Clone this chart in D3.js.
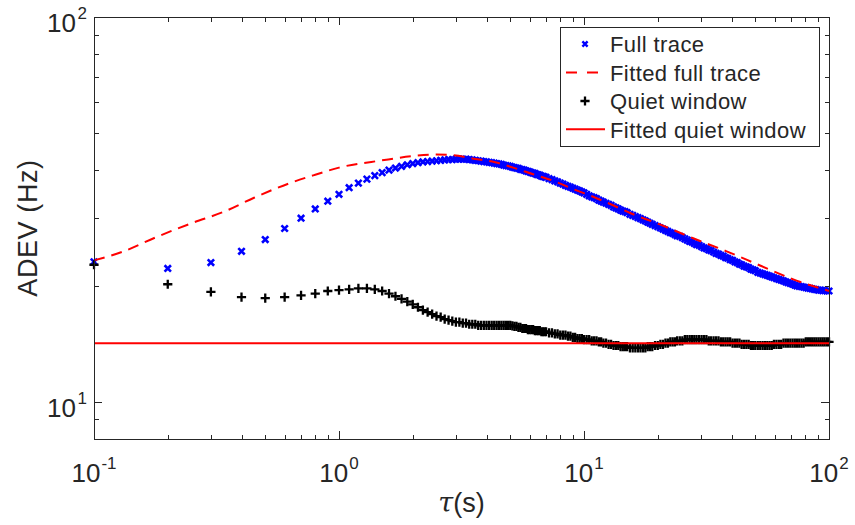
<!DOCTYPE html>
<html><head><meta charset="utf-8">
<script src="https://cdn.jsdelivr.net/npm/d3@7"></script>
<style>
body{margin:0;background:#fff}
svg{display:block}
text{font-family:"Liberation Sans",Arial,Helvetica,sans-serif;fill:#262626}
</style>
</head><body>
<svg id="chart" width="855" height="525"></svg>
<script>
// ---------- data ----------
const tau = [0.1,0.2,0.3,0.4,0.5,0.6,0.7,0.8,0.9,1.0,1.1,1.2,1.3,1.4,1.5,1.6,1.7,1.8,1.9,2.0,2.1,2.2,2.3,2.4,2.5,2.6,2.7,2.8,2.9,3.0,
3.1,3.2,3.3,3.4,3.5,3.6,3.7,3.8,3.9,4.0,4.1,4.2,4.3,4.4,4.5,4.6,4.7,4.8,4.9,5.0,
5.1,5.2,5.3,5.4,5.5,5.6,5.7,5.8,5.9,6.0,6.1,6.2,6.3,6.4,6.5,6.6,6.7,6.8,6.9,7.0,
7.2,7.4,7.6,7.8,8.0,8.2,8.4,8.6,8.8,9.0,9.2,9.4,9.6,9.8,10,
10.25,10.5,10.75,11,11.25,11.5,11.75,12,12.3,12.6,12.9,13.2,13.5,13.8,14.1,14.4,14.7,15,15.4,15.8,16.2,16.6,17,17.4,17.8,18.2,18.6,19,19.5,20,
20.5,21,21.5,22,22.5,23,23.5,24,24.6,25.2,25.8,26.4,27,27.6,28.2,28.8,29.5,30.2,30.9,31.6,32.3,33,33.8,34.6,35.4,36.2,37,37.8,38.6,39.5,
40.4,41.3,42.2,43.1,44,45,46,47,48,49,50,51.2,52.4,53.6,54.8,56,57.2,58.4,59.6,61,62.4,63.8,65.2,66.6,68,69.5,71,72.5,74,75.6,
77.2,78.8,80.4,82,83.7,85.4,87.1,88.8,90.6,92.4,94.2,96,98,100];

const fullTrace = [23.1,22.2,23.0,24.6,26.4,28.2,30.0,31.7,33.2,34.6,36.0,37.0,37.9,38.7,39.4,40.0,40.5,40.9,41.3,41.6,41.8,42.0,42.1,42.2,42.3,42.4,42.5,42.6,42.6,42.7,
42.7,42.7,42.7,42.6,42.5,42.4,42.3,42.2,42.1,42.0,41.9,41.8,41.7,41.6,41.5,41.4,41.2,41.1,41.0,40.9,
40.7,40.6,40.5,40.4,40.2,40.1,40.0,39.8,39.7,39.6,39.4,39.3,39.2,39.0,38.9,38.8,38.6,38.5,38.4,38.3,
38.0,37.8,37.5,37.3,37.0,36.8,36.5,36.3,36.1,35.9,35.7,35.5,35.3,35.1,34.9,
34.6,34.3,34.1,33.9,33.7,33.4,33.2,33.0,32.8,32.6,32.4,32.1,31.9,31.7,31.5,31.3,31.2,31.0,30.7,30.5,30.3,30.1,29.9,29.7,29.5,29.3,29.1,28.9,28.7,28.5,
28.3,28.1,27.9,27.7,27.5,27.4,27.2,27.0,26.9,26.7,26.5,26.3,26.1,26.0,25.8,25.6,25.5,25.3,25.1,25.0,24.8,24.7,24.5,24.3,24.2,24.0,23.9,23.7,23.6,23.4,
23.3,23.1,23.0,22.8,22.7,22.5,22.4,22.3,22.1,22.0,21.9,21.7,21.6,21.5,21.4,21.3,21.2,21.1,21.0,20.9,20.8,20.7,20.6,20.5,20.4,20.3,20.2,20.1,20.0,19.95,
19.9,19.85,19.8,19.75,19.7,19.65,19.6,19.55,19.5,19.5,19.45,19.45,19.4,19.4];

const quietWindow = [22.7,20.2,19.3,18.7,18.6,18.7,18.9,19.1,19.4,19.5,19.6,19.7,19.7,19.6,19.4,19.1,18.8,18.5,18.2,17.9,17.6,17.3,17.1,16.9,16.7,16.6,16.4,16.3,16.2,16.1,
16.1,16.0,16.0,15.9,15.9,15.9,15.8,15.8,15.8,15.8,15.8,15.8,15.8,15.8,15.8,15.8,15.8,15.8,15.8,15.8,
15.75,15.7,15.7,15.6,15.6,15.5,15.5,15.5,15.4,15.4,15.4,15.4,15.3,15.3,15.3,15.3,15.2,15.2,15.2,15.2,
15.1,15.1,15.0,15.0,14.9,14.9,14.9,14.8,14.8,14.7,14.7,14.6,14.6,14.6,14.5,
14.5,14.5,14.4,14.4,14.4,14.3,14.3,14.2,14.2,14.1,14.1,14.0,14.0,14.0,13.9,13.9,13.9,13.9,13.8,13.8,13.8,13.8,13.8,13.8,13.8,13.9,13.9,13.9,14.0,14.0,
14.1,14.1,14.2,14.2,14.3,14.3,14.3,14.4,14.4,14.4,14.5,14.5,14.5,14.5,14.5,14.5,14.5,14.5,14.5,14.5,14.4,14.4,14.4,14.4,14.4,14.3,14.3,14.3,14.3,14.3,
14.2,14.2,14.2,14.2,14.1,14.1,14.1,14.1,14.0,14.0,14.0,14.0,14.0,14.0,14.0,14.0,14.0,14.0,14.1,14.1,14.1,14.1,14.2,14.2,14.2,14.2,14.2,14.2,14.2,14.2,
14.2,14.2,14.3,14.3,14.3,14.3,14.3,14.3,14.3,14.3,14.3,14.3,14.3,14.3];

const fitTau = [0.1,0.13,0.18,0.25,0.34,0.45,0.63,0.8,1.0,1.5,2.0,2.5,2.93,3.5,4.34,5.14,6.2,7.5,9.04,10.9,13,15.5,20.4,27.9,38.2,52.3,71.5,100];
const fittedFull = [23.3,24.5,26.8,29.1,31.2,33.9,37.0,38.9,40.6,42.4,43.5,43.9,43.7,42.9,41.9,40.6,39.0,37.5,35.7,34.1,32.5,30.9,28.9,26.6,24.6,22.6,20.8,19.4];

const fitQuietTau = [0.1, 100];
const fittedQuiet = [14.2, 14.2];

const xTicks = [0.1, 1, 10, 100];
const xTickLabels = [["10","-1"],["10","0"],["10","1"],["10","2"]];
const yTicks = [10, 100];
const yTickLabels = [["10","1"],["10","2"]];
const legendLabels = ["Full trace","Fitted full trace","Quiet window","Fitted quiet window"];
const xLabel = "τ";
const xLabelUnit = "(s)";
const yLabel = "ADEV (Hz)";

// ---------- layout ----------
const M = {l:94, r:829, t:17, b:439};
const axisColor = "#262626";
const svg = d3.select("#chart");

const x = d3.scaleLog().domain([0.1, 100]).range([M.l, M.r]);
const y = d3.scaleLog().domain([8, 100]).range([M.b, M.t]);

const isPow10 = v => Math.abs(Math.log10(v) - Math.round(Math.log10(v))) < 1e-9;
const xMinor = x.ticks().filter(v => !isPow10(v));
const yMinor = y.ticks().filter(v => !isPow10(v));

const majorLen = 8, minorLen = 4.5;

function addAxis(gen, tx, ty, values, len, keepDomain) {
  const g = svg.append("g").attr("transform", `translate(${tx},${ty})`)
    .call(gen.tickValues(values).tickSizeInner(-len).tickSizeOuter(0).tickFormat(""));
  g.selectAll("line").attr("stroke", axisColor).attr("stroke-width", 1).attr("shape-rendering","crispEdges");
  g.select(".domain").attr("stroke", keepDomain ? axisColor : "none").attr("stroke-width", 1).attr("shape-rendering","crispEdges");
  g.selectAll("text").remove();
  return g;
}

// ---------- data marks ----------
const xMark = "M-3.2,-3.2L3.2,3.2M-3.2,3.2L3.2,-3.2";
const plusMark = "M-4.6,0H4.6M0,-4.6V4.6";

const gData = svg.append("g");
gData.selectAll("path.full").data(d3.zip(tau, fullTrace)).join("path")
  .attr("class","full")
  .attr("transform", d => `translate(${x(d[0])},${y(d[1])})`)
  .attr("d", xMark).attr("fill","none").attr("stroke","#0000ff").attr("stroke-width",2.6);

const line = d3.line().x(d => x(d[0])).y(d => y(d[1])).curve(d3.curveMonotoneX);
gData.append("path").datum(d3.zip(fitTau, fittedFull))
  .attr("d", line).attr("fill","none").attr("stroke","#ff0000").attr("stroke-width",2)
  .attr("stroke-dasharray","11,7");

gData.selectAll("path.quiet").data(d3.zip(tau, quietWindow)).join("path")
  .attr("class","quiet")
  .attr("transform", d => `translate(${x(d[0])},${y(d[1])})`)
  .attr("d", plusMark).attr("fill","none").attr("stroke","#000000").attr("stroke-width",2.3);

gData.append("path").datum(d3.zip(fitQuietTau, fittedQuiet))
  .attr("d", line).attr("fill","none").attr("stroke","#ff0000").attr("stroke-width",2);

// ---------- axes (box, inward ticks) ----------
addAxis(d3.axisBottom(x), 0, M.b, xTicks, majorLen, true);
addAxis(d3.axisBottom(x), 0, M.b, xMinor, minorLen, false);
addAxis(d3.axisTop(x), 0, M.t, xTicks, majorLen, true);
addAxis(d3.axisTop(x), 0, M.t, xMinor, minorLen, false);
addAxis(d3.axisLeft(y), M.l, 0, yTicks, majorLen, true);
addAxis(d3.axisLeft(y), M.l, 0, yMinor, minorLen, false);
addAxis(d3.axisRight(y), M.r, 0, yTicks, majorLen, true);
addAxis(d3.axisRight(y), M.r, 0, yMinor, minorLen, false);

// tick labels with superscripts
const tickFont = 26, supFont = 17, supDy = -13;
xTicks.forEach((v, i) => {
  const t = svg.append("text").attr("x", x(v)).attr("y", 481.7)
    .attr("text-anchor","middle").attr("font-size", tickFont);
  t.append("tspan").text(xTickLabels[i][0]);
  t.append("tspan").attr("font-size", supFont).attr("dy", supDy).attr("dx", 1).text(xTickLabels[i][1]);
});
yTicks.forEach((v, i) => {
  const t = svg.append("text").attr("x", 87).attr("y", y(v) + 15)
    .attr("text-anchor","end").attr("font-size", tickFont);
  t.append("tspan").text(yTickLabels[i][0]);
  t.append("tspan").attr("font-size", supFont).attr("dy", supDy).attr("dx", 1.5).text(yTickLabels[i][1]);
});

// axis titles
const xt = svg.append("text").attr("x", (M.l + M.r) / 2).attr("y", 512)
  .attr("text-anchor","middle").attr("font-size", 27);
xt.append("tspan").attr("font-style","italic").attr("font-family","'DejaVu Serif','Liberation Serif',serif").text(xLabel);
xt.append("tspan").text(xLabelUnit);

svg.append("text")
  .attr("transform", `translate(37,${(M.t + M.b) / 2}) rotate(-90)`)
  .attr("text-anchor","middle").attr("font-size", 27).attr("letter-spacing","0.6px").text(yLabel);

// ---------- legend ----------
const lg = svg.append("g");
lg.append("rect").attr("x", 560.5).attr("y", 27.5).attr("width", 259).attr("height", 119)
  .attr("fill","#fff").attr("stroke", axisColor).attr("stroke-width", 1);
const rowY = [44, 72.5, 101, 129.3];
lg.append("path").attr("transform", `translate(585,${rowY[0]})`).attr("d", "M-2.6,-2.6L2.6,2.6M-2.6,2.6L2.6,-2.6")
  .attr("stroke","#0000ff").attr("stroke-width",2.4).attr("fill","none");
lg.append("line").attr("x1",566).attr("x2",605).attr("y1",rowY[1]).attr("y2",rowY[1])
  .attr("stroke","#ff0000").attr("stroke-width",2).attr("stroke-dasharray","11,10");
lg.append("path").attr("transform", `translate(585,${rowY[2]})`).attr("d", plusMark)
  .attr("stroke","#000").attr("stroke-width",2.3).attr("fill","none");
lg.append("line").attr("x1",566).attr("x2",605).attr("y1",rowY[3]).attr("y2",rowY[3])
  .attr("stroke","#ff0000").attr("stroke-width",2);
legendLabels.forEach((s, i) => {
  lg.append("text").attr("x", 610).attr("y", rowY[i] + 8.3)
    .attr("font-size", 22).attr("letter-spacing", "0.4px").attr("fill","#000").text(s);
});
</script>
</body></html>
